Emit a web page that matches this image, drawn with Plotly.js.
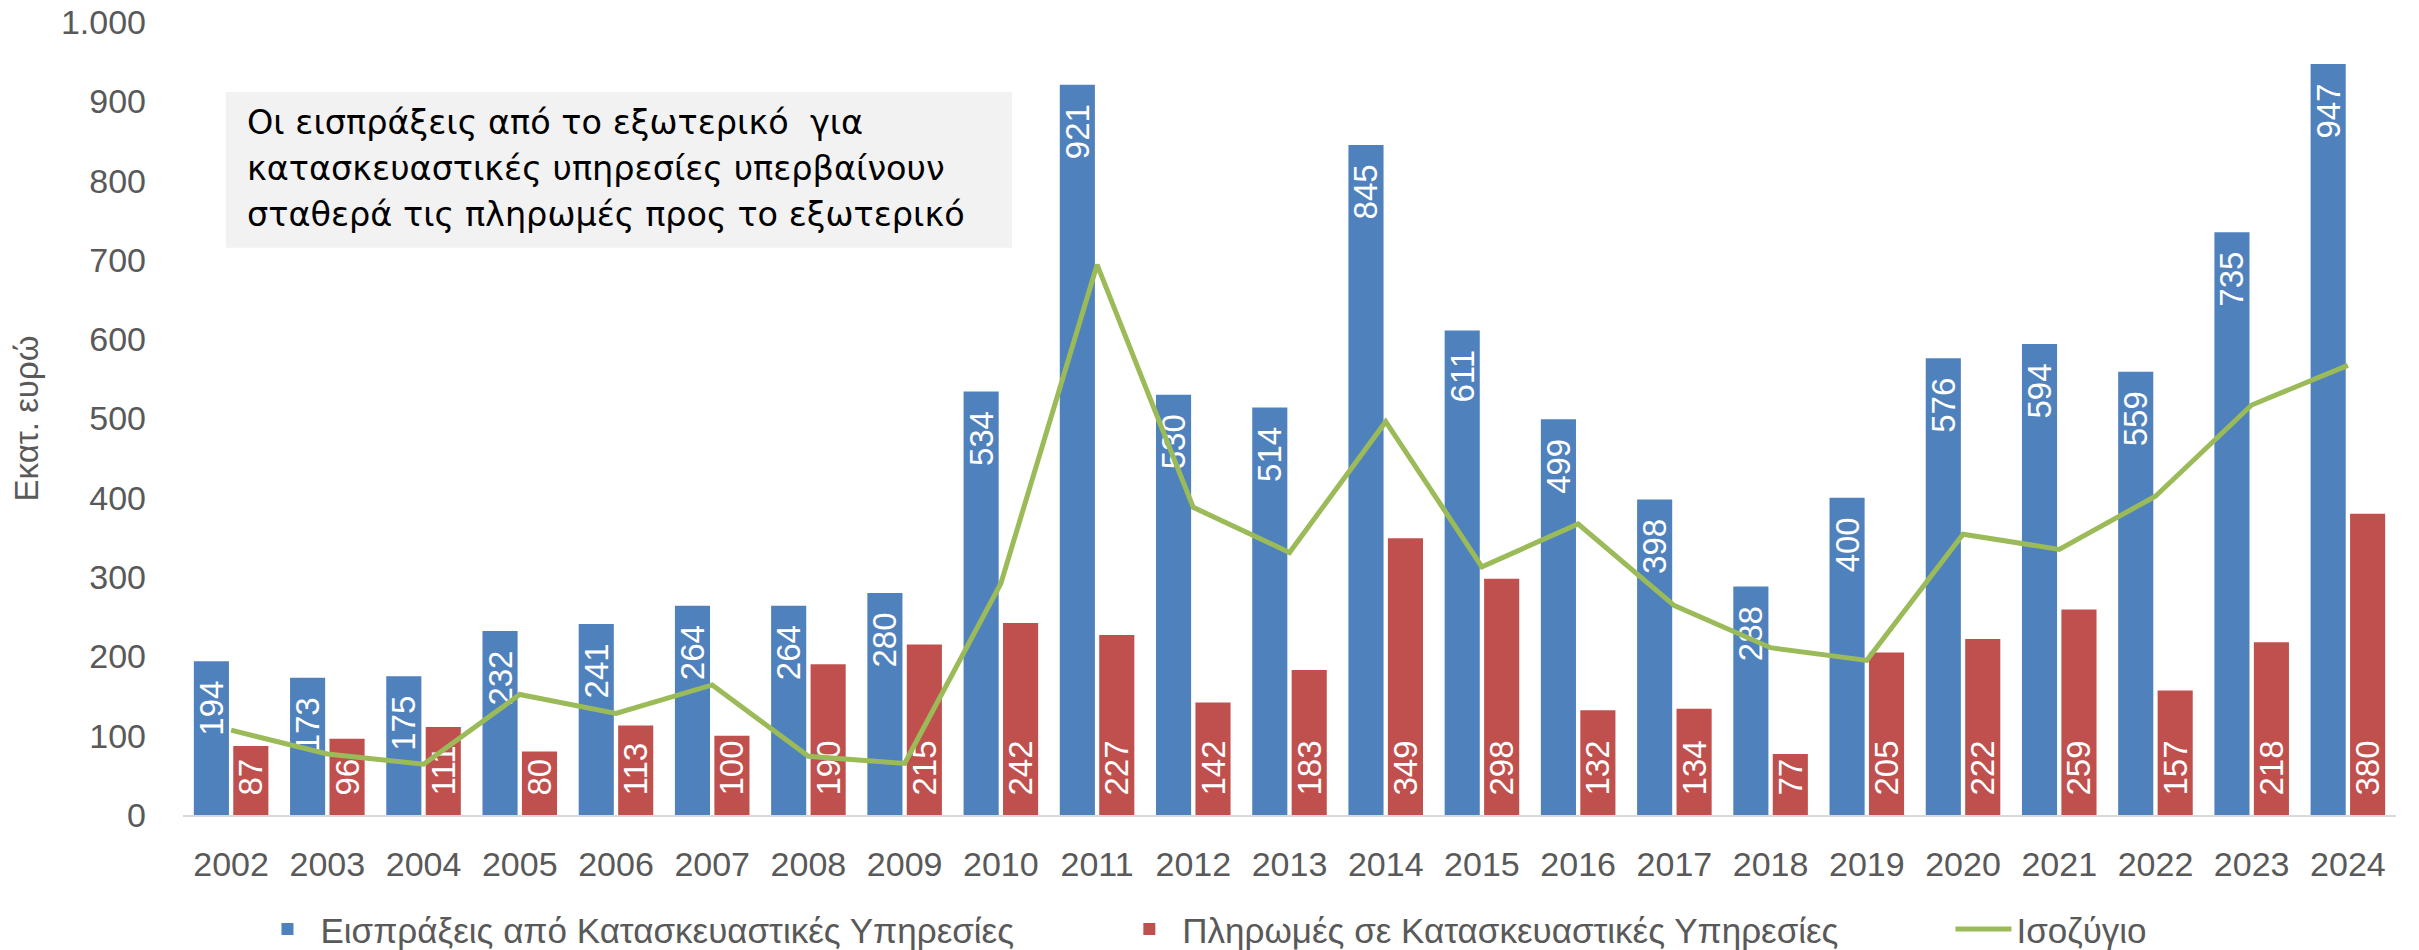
<!DOCTYPE html>
<html>
<head>
<meta charset="utf-8">
<script src="https://cdn.plot.ly/plotly-3.0.1.min.js"></script>
<style>
  html, body { margin: 0; padding: 0; background: #fff; }
  #chart { width: 2419px; height: 950px; }
</style>
</head>
<body>
<div id="chart"></div>
<script>
// values, in million euro
var years = ['2002','2003','2004','2005','2006','2007','2008','2009','2010','2011','2012',
             '2013','2014','2015','2016','2017','2018','2019','2020','2021','2022','2023','2024'];
var receipts = [194,173,175,232,241,264,264,280,534,921,530,514,845,611,499,398,288,400,576,594,559,735,947];
var payments = [87,96,111,80,113,100,190,215,242,227,142,183,349,298,132,134,77,205,222,259,157,218,380];
var balance = [107,77,64,152,128,164,74,65,292,694,388,331,496,313,367,264,211,195,354,335,402,517,567];

var seriesNames = ['Εισπράξεις από Κατασκευαστικές Υπηρεσίες',
                   'Πληρωμές σε Κατασκευαστικές Υπηρεσίες',
                   'Ισοζύγιο'];
var noteLines = ['Οι εισπράξεις από το εξωτερικό  για',
                 'κατασκευαστικές υπηρεσίες υπερβαίνουν',
                 'σταθερά τις πληρωμές προς το εξωτερικό'];

var FONT = 'Liberation Sans, Arial, sans-serif';
var GREY = '#595959';
var PAD = '\u2002';
function gap(n) { return new Array(n + 1).join('\u00a0'); }

var trReceipts = {
    x: years,
    y: receipts,
    name: seriesNames[0] + gap(10),
    type: 'bar',
    marker: {color: '#4F81BD'},
    text: receipts.map(function(v){ return v + PAD; }),
    textposition: 'inside',
    insidetextanchor: 'end',
    textangle: -90,
    constraintext: 'none',
    textfont: {family: FONT, size: 33, color: '#ffffff'},
    hoverinfo: 'x+y'
};
var trPayments = {
    x: years,
    y: payments,
    name: seriesNames[1] + gap(11),
    type: 'bar',
    marker: {color: '#C0504D'},
    text: payments.map(function(v){ return PAD + v; }),
    textposition: 'inside',
    insidetextanchor: 'start',
    textangle: -90,
    constraintext: 'none',
    textfont: {family: FONT, size: 33, color: '#ffffff'},
    hoverinfo: 'x+y'
};
var trBalance = {
    x: years,
    y: balance,
    name: seriesNames[2],
    type: 'scatter',
    mode: 'lines',
    line: {color: '#9BBB59', width: 5},
    hoverinfo: 'x+y'
};

var annotations = [];
var lineY = [0.873, 0.815, 0.757];
for (var i = 0; i < noteLines.length; i++) {
    annotations.push({
        xref: 'paper', yref: 'paper',
        x: 0.028, y: lineY[i],
        xanchor: 'left', yanchor: 'middle',
        text: noteLines[i],
        showarrow: false,
        font: {family: 'DejaVu Sans, sans-serif', size: 33.5, color: '#000000'}
    });
}

var layout = {
    width: 2419,
    height: 950,
    margin: {l: 183, r: 23, t: 22, b: 135, autoexpand: false},
    paper_bgcolor: '#ffffff',
    plot_bgcolor: '#ffffff',
    separators: ',.',
    barmode: 'group',
    bargap: 0.18,
    bargroupgap: 0.11,
    showlegend: true,
    font: {family: FONT, color: GREY},
    xaxis: {
        type: 'category',
        showgrid: false,
        showline: true,
        linecolor: '#D9D9D9',
        linewidth: 2,
        ticks: '',
        ticklabelstandoff: 18,
        tickfont: {family: FONT, size: 34, color: GREY},
        fixedrange: true
    },
    yaxis: {
        range: [0, 1000],
        dtick: 100,
        tickformat: ',d',
        showgrid: false,
        zeroline: false,
        showline: false,
        ticks: '',
        ticklabelstandoff: 36,
        tickfont: {family: FONT, size: 34, color: GREY},
        title: {text: 'Εκατ. ευρώ', font: {family: FONT, size: 33, color: GREY}, standoff: 12},
        fixedrange: true
    },
    legend: {
        orientation: 'h',
        x: 0.0323, xanchor: 'left',
        y: -0.144, yanchor: 'middle',
        itemwidth: 56,
        traceorder: 'normal',
        font: {family: FONT, size: 35, color: GREY}
    },
    shapes: [{
        type: 'rect', xref: 'paper', yref: 'paper',
        x0: 0.0194, x1: 0.3746, y0: 0.7154, y1: 0.9118,
        fillcolor: '#F2F2F2', line: {width: 0}, layer: 'below'
    }],
    annotations: annotations
};

Plotly.newPlot('chart', [trReceipts, trPayments, trBalance], layout, {displayModeBar: false, staticPlot: true});
</script>
</body>
</html>
